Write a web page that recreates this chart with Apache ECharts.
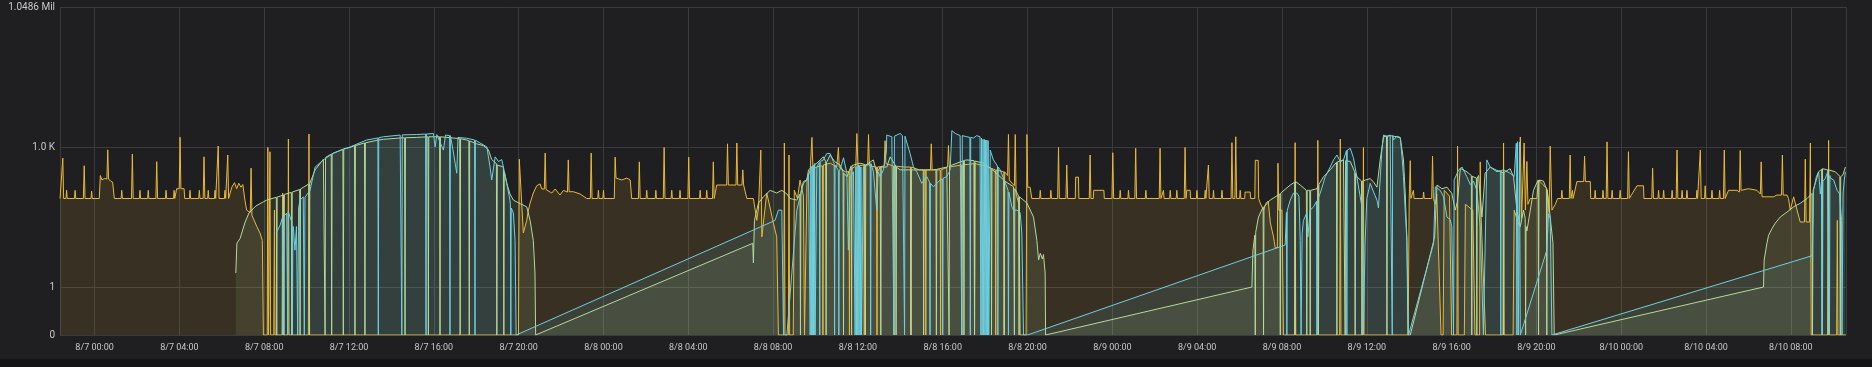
<!DOCTYPE html>
<html>
<head>
<meta charset="utf-8">
<script src="https://cdn.jsdelivr.net/npm/echarts@6/dist/echarts.min.js"></script>
<style>
html,body{margin:0;padding:0;background:#141414;}
#chart{width:1872px;height:359px;}
</style>
</head>
<body>
<div id="chart"></div>
<script>
// time in hours since 8/7 00:00, value (0 = bottom of the log axis)
const yAxisTicks = {1: '1', 1024: '1.0 K', 1048576: '1.0486 Mil'};

const yellowPts = [
[-1.63,80],[-1.54,80],[-1.50,590],[-1.46,80],[-1.35,80],[-1.32,120],[-1.29,80],[-0.95,80],[-0.92,120],[-0.89,80],
[-0.53,80],[-0.49,405],[-0.45,80],[-0.17,80],[-0.14,115],[-0.11,80],[0.22,80],[0.27,250],[0.35,200],[0.45,215],
[0.58,210],[0.62,890],[0.66,210],[0.75,190],[0.85,180],[0.90,180],[0.93,80],[1.25,80],[1.28,120],[1.31,80],
[1.74,80],[1.78,724],[1.82,80],[2.11,80],[2.14,120],[2.17,80],[2.50,80],[2.53,120],[2.56,80],[2.89,80],[2.93,495],[2.97,80],
[3.34,80],[3.37,120],[3.40,80],[3.72,80],[3.75,120],[3.78,80],[3.87,130],[3.99,130],[4.03,1660],[4.07,130],[4.22,130],[4.25,80],
[4.47,80],[4.50,120],[4.53,80],[4.91,80],[4.94,120],[4.97,80],[5.12,80],[5.16,630],[5.20,80],[5.33,80],[5.36,120],[5.39,80],
[5.65,80],[5.68,120],[5.71,80],[5.79,80],[5.83,1075],[5.87,80],[6.12,80],[6.15,120],[6.18,80],[6.24,80],[6.28,690],[6.32,80],
[6.47,140],[6.6,175],[6.7,130],[6.8,170],[6.9,140],[6.99,160],[7.01,156],[7.09,74],[7.17,45],[7.34,40],[7.38,360],[7.42,35],
[7.49,32],[7.65,20],[7.80,14.5],[7.91,10],[7.96,0],
[8.14,0],[8.17,1000],[8.20,0],[8.24,0],[8.27,810],[8.30,0],[8.45,0],[8.48,45],[8.51,0],[8.84,0],[8.87,105],[8.90,0],
[9.11,0],[9.14,1520],[9.17,0],[10.08,0],[10.11,1950],[10.14,0],[19.99,0],
[20.03,560],[20.22,14.5],[20.30,16],[20.38,27],[20.46,45],[20.54,64],[20.69,105],[20.85,150],[21.01,165],[21.09,128],
[21.21,128],[21.25,760],[21.29,125],[21.33,125],[21.56,105],[21.72,128],[21.95,95],[22.11,120],[22.30,110],[22.34,540],[22.38,112],
[22.58,112],[22.90,100],[23.21,80],[23.38,80],[23.42,760],[23.46,80],[23.73,80],[23.76,120],[23.79,80],[23.97,80],[24.0,120],[24.03,80],
[24.51,80],[24.55,620],[24.59,220],[24.86,200],[25.10,220],[25.26,200],[25.33,80],[25.65,80],[25.69,490],[25.73,80],
[26.01,80],[26.04,120],[26.07,80],[26.44,80],[26.47,120],[26.50,80],[26.82,80],[26.86,1000],[26.90,80],[27.19,80],[27.22,120],[27.25,80],
[27.58,80],[27.61,120],[27.64,80],[27.98,80],[28.02,620],[28.06,80],[28.53,80],[28.56,120],[28.59,80],[28.84,80],[28.87,120],[28.90,80],
[29.14,80],[29.18,490],[29.22,80],[29.34,156],[29.81,156],[29.85,1200],[29.89,156],[30.25,156],[30.29,1250],[30.33,156],
[30.53,156],[30.57,330],[30.61,156],[30.76,80],[31.07,80],[31.23,27],[31.31,50],[31.38,50],[31.42,880],[31.47,12],
[31.70,105],[31.86,50],[32.01,24],[32.17,12],[32.25,0],
[32.50,0],[32.53,1250],[32.56,0],[32.72,0],[32.75,690],[32.78,0],[32.95,0],[33.0,120],[33.15,80],[33.27,200],[33.43,90],[33.48,0],
[33.55,0],[33.6,200],[33.75,330],[33.83,1650],[33.88,350],[34.2,400],[34.33,400],[34.35,0],[34.37,420],[34.7,460],[35.0,380],
[35.08,1000],[35.12,380],[35.4,300],[35.58,300],[35.6,0],[35.62,330],[35.9,400],[35.95,2000],[36.0,400],[36.28,420],[36.3,0],
[36.32,420],[36.46,420],[36.5,1900],[36.54,400],[36.88,380],[36.9,0],[36.92,380],[37.24,400],[37.28,1400],[37.32,450],
[37.68,400],[37.7,0],[37.72,400],[38.2,380],[38.48,380],[38.5,0],[38.52,380],[38.9,330],[39.18,330],[39.2,0],[39.22,330],
[39.42,330],[39.46,1200],[39.5,330],[39.88,330],[39.9,0],[39.92,330],[40.23,380],[40.27,1100],[40.31,380],[40.88,420],[40.9,0],
[40.92,420],[41.48,450],[41.5,0],[41.52,450],[42.0,400],[42.48,330],[42.5,0],[42.52,330],[42.88,300],[42.9,0],[42.92,300],
[43.06,250],[43.1,1900],[43.14,200],[43.38,150],[43.42,1900],[43.46,100],[43.6,60],[43.65,0],[43.93,0],[43.97,1900],[44.01,140],
[44.12,140],[44.2,80],
[44.57,80],[44.6,120],[44.63,80],[45.07,80],[45.1,120],[45.13,80],[45.42,80],[45.46,1000],[45.5,80],[45.81,80],[45.85,420],[45.89,80],
[46.25,80],[46.27,230],[46.4,230],[46.42,80],[46.91,80],[46.95,690],[46.99,80],[47.1,80],[47.12,120],[47.6,120],[47.62,80],
[47.98,80],[48.02,770],[48.06,80],[48.34,80],[48.37,120],[48.40,80],[48.73,80],[48.76,120],[48.79,80],[49.06,80],[49.1,960],[49.14,80],
[49.55,80],[49.58,120],[49.61,80],[50.21,80],[50.25,960],[50.29,80],[50.38,80],[50.41,120],[50.44,80],[50.70,80],[50.73,120],[50.76,80],
[51.01,80],[51.04,120],[51.07,80],[51.39,80],[51.43,1000],[51.47,80],[51.51,120],[51.67,120],[51.69,80],[51.96,80],[51.99,120],[52.02,80],
[52.35,80],[52.38,120],[52.41,80],[52.49,80],[52.53,420],[52.57,80],[52.74,80],[52.77,120],[52.80,80],[53.14,80],[53.17,120],[53.20,80],
[53.60,80],[53.64,1270],[53.68,80],[53.78,80],[53.82,1700],[53.86,80],[54.0,80],[54.03,120],[54.06,80],[54.24,80],[54.26,110],[54.5,110],
[54.52,80],[54.72,80],[54.74,530],[54.88,530],[54.9,80],[54.97,64],[55.13,45],[55.25,64],[55.35,70],[55.45,24],[55.60,12],[55.68,7],
[55.78,7],[55.81,460],[55.85,45],[56.0,45],[56.07,0],
[56.59,0],[56.62,1270],[56.65,0],[57.66,0],[57.69,1420],[57.72,0],[58.72,0],[58.75,1520],[58.78,0],[59.81,0],[59.84,1000],[59.87,0],
[61.95,0],[62.0,80],[62.03,80],[62.05,520],[62.08,80],[62.17,80],[62.2,120],[62.23,80],[62.65,80],[62.68,110],[62.71,80],
[63.06,80],[63.1,650],[63.14,80],[63.23,60],[63.3,100],[63.5,0],[63.6,0],[63.65,120],[63.9,90],[64.0,0],[64.25,0],[64.28,1070],[64.31,0],
[64.6,0],[64.65,60],[65.0,45],[65.1,0],[65.32,0],[65.35,490],[65.38,45],[65.6,0],[66.42,0],[66.45,1250],[66.48,0],[66.9,0],[66.95,45],
[67.2,20],[67.24,1680],[67.3,30],[67.42,1250],[67.48,45],[67.55,500],[67.6,60],[67.71,80],[68.02,80],[68.1,200],[68.3,160],[68.5,130],
[68.6,40],[68.65,1070],[68.73,45],[68.89,60],
[69.0,80],[69.17,80],[69.2,120],[69.23,80],[69.55,80],[69.59,690],[69.63,80],[69.67,80],[69.7,120],[69.73,80],[69.91,185],[70.23,185],
[70.27,650],[70.31,185],[70.54,185],[70.56,80],[70.74,80],[70.77,120],[70.8,80],[71.11,80],[71.14,120],[71.17,80],[71.29,80],[71.33,1320],
[71.37,80],[71.54,80],[71.57,120],[71.6,80],[71.92,80],[71.95,120],[71.98,80],[72.30,80],[72.34,810],[72.38,80],[72.74,150],[73.05,150],
[73.07,80],[73.44,80],[73.48,360],[73.52,80],[73.73,80],[73.76,120],[73.79,80],[73.97,80],[74.0,120],[74.03,80],[74.37,80],[74.4,120],
[74.43,80],[74.59,80],[74.63,880],[74.67,80],[74.84,80],[74.87,120],[74.9,80],[75.07,80],[75.1,120],[75.13,80],[75.54,80],[75.57,120],
[75.6,80],[75.69,80],[75.73,880],[75.77,80],[75.93,80],[75.96,150],[75.99,80],[76.25,80],[76.28,120],[76.31,80],[76.61,80],[76.64,120],
[76.67,80],[76.82,80],[76.86,880],[76.9,80],[77.06,120],[77.46,120],[77.57,110],[77.61,860],[77.65,120],[78.0,130],[78.4,120],
[78.56,100],[78.6,490],[78.64,87],[79.18,87],[79.34,95],[79.56,95],[79.6,690],[79.64,95],[79.82,95],[79.89,80],[79.97,45],[80.13,87],
[80.44,25],[80.64,25],[80.68,560],[80.72,25],[80.88,25],[80.92,1250],[80.96,0],[81.74,0],[81.78,1420],[81.82,0],[82.16,0],[82.19,27],
[82.22,0],[82.6,0]
];

const greenPts = [
[6.66,2.0],[6.71,8.8],[6.86,11],[7.10,25],[7.28,39],[7.6,55],[7.96,68],[8.12,74],[8.57,85],[8.59,0],[8.61,86],[8.91,95],[8.93,0],
[8.95,98],[9.28,108],[9.30,0],[9.32,110],[9.67,125],[9.69,0],[9.71,128],[10.11,165],[10.13,0],[10.15,170],[10.40,330],[10.79,560],
[10.85,600],[10.87,0],[10.89,610],[11.16,720],[11.18,0],[11.20,730],[11.71,920],[11.73,0],[11.75,940],[12.05,1000],[12.26,1100],
[12.28,0],[12.30,1100],[12.73,1250],[12.75,0],[12.77,1260],[13.38,1450],[13.62,1500],[14.41,1600],[14.62,1620],[14.64,0],[14.66,1620],
[15.19,1650],[15.72,1700],[15.74,0],[15.76,1700],[16.27,1700],[16.29,0],[16.31,1700],[17.22,1550],[17.24,0],[17.26,1540],[17.55,1450],
[17.65,1400],[17.67,0],[17.69,1380],[18.02,1200],[18.33,1100],[18.57,900],[18.73,550],[18.81,500],[18.95,450],[18.97,0],[18.99,420],
[19.28,380],[19.30,0],[19.32,300],[19.44,170],[19.59,100],[19.75,74],[20.07,62],[20.38,53],[20.54,27],[20.69,10],[20.77,2],[20.80,0],
[31.04,8.7],[31.07,3.3],[31.12,27],[31.23,45],[31.31,64],[31.54,87],[31.86,120],[32.17,105],[32.41,120],[32.65,100],[32.80,80],
[33.12,74],[33.27,100],[33.29,0],[33.31,110],[33.43,185],[33.59,200],[33.67,330],[33.88,400],[33.90,0],[33.92,420],[34.06,460],
[34.37,630],[34.48,500],[34.50,0],[34.52,480],[34.69,690],[34.9,500],[35.16,420],[35.30,300],[35.32,0],[35.34,280],[35.48,235],
[35.68,400],[35.70,0],[35.72,410],[35.79,420],[36.10,460],[36.33,430],[36.35,0],[36.37,420],[36.73,540],[36.89,280],[37.05,380],
[37.08,0],[37.10,380],[37.36,380],[37.52,630],[37.78,400],[37.80,0],[37.82,380],[37.99,330],[38.48,330],[38.50,0],[38.52,330],
[38.62,330],[39.08,330],[39.10,0],[39.12,330],[39.56,330],[39.68,340],[39.70,0],[39.72,340],[40.19,380],[40.28,400],[40.30,0],
[40.32,400],[40.98,520],[41.00,0],[41.02,530],[41.14,540],[41.48,520],[41.50,0],[41.52,510],[41.92,460],[42.28,350],[42.30,0],
[42.32,340],[42.71,235],[42.88,200],[42.90,0],[42.92,190],[43.34,143],[43.38,0],[43.40,130],[43.58,90],[43.60,0],[43.62,87],
[43.97,64],[44.28,32],[44.44,10],[44.52,3.8],[44.6,5.3],[44.7,4],[44.75,5],[44.83,2],[44.85,0],
[54.58,1.0],[54.63,6.2],[54.72,13],[54.74,0],[54.76,15],[54.89,32],[55.11,52],[55.13,0],[55.15,53],[55.44,74],[55.90,100],[55.92,0],
[55.94,105],[56.39,156],[56.60,180],[56.62,0],[56.64,185],[56.86,156],[57.15,120],[57.17,0],[57.19,120],[57.31,120],[57.33,0],
[57.35,120],[57.65,130],[57.70,150],[57.72,0],[57.74,160],[57.96,235],[58.27,330],[58.57,480],[58.59,0],[58.61,490],[58.90,540],
[58.96,530],[58.98,0],[59.00,520],[59.22,500],[59.43,300],[59.45,0],[59.47,280],[59.53,235],[59.75,190],[59.77,0],[59.79,190],
[59.84,185],[60.16,215],[60.32,180],[60.48,140],[60.63,540],[60.79,1700],[60.93,1750],[60.95,0],[60.97,1750],[61.1,1800],[61.42,1700],
[61.58,1600],[61.73,540],[61.81,105],[61.89,12],[61.94,0],[62.05,0],[63.2,12],[63.31,156],[63.54,130],[63.78,140],[64.01,103],
[64.17,45],[64.28,70],[64.41,355],[64.72,300],[64.93,250],[64.95,0],[64.97,240],[65.03,235],[65.17,220],[65.19,0],[65.21,220],
[65.27,250],[65.43,32],[65.58,280],[65.82,380],[66.14,320],[66.43,290],[66.45,0],[66.47,290],[66.76,350],[66.92,235],[67.08,45],
[67.24,20],[67.39,45],[67.47,30],[67.49,0],[67.51,20],[67.55,16],[67.71,45],[67.86,120],[68.08,200],[68.10,0],[68.12,200],[68.33,190],
[68.47,130],[68.49,0],[68.51,120],[68.65,32],[68.78,8.7],[68.84,0],
[78.71,1.0],[78.74,3.8],[78.87,8.7],[78.95,13],[79.11,18],[79.26,23.5],[79.50,32],[79.82,41],[80.13,53],[80.44,63],[80.76,80],
[81.0,103],[81.02,0],[81.05,120],[81.15,170],[81.31,300],[81.45,340],[81.47,0],[81.49,350],[81.54,355],[81.74,330],[81.76,0],
[81.78,330],[81.86,320],[82.10,300],[82.31,240],[82.33,0],[82.35,235],[82.46,260],[82.57,380]
];

const cyanPts = [
[8.56,14.5],[8.75,21.5],[8.85,30],[8.87,0],[8.89,32],[9.06,39],[9.11,0],[9.13,42],[9.22,45],[9.30,25],[9.33,0],[9.35,18],[9.37,20],
[9.45,6.2],[9.52,20],[9.58,0],[9.62,50],[9.69,74],[9.84,87],[9.89,0],[9.92,85],[9.98,80],[10.16,120],[10.40,380],[10.79,540],
[11.26,760],[12.05,1030],[12.83,1450],[13.36,1600],[13.38,0],[13.40,1620],[13.62,1700],[14.41,1850],[14.47,1860],[14.49,0],[14.51,1870],
[15.19,1900],[15.61,1950],[15.63,0],[15.65,1950],[15.98,2000],[16.06,1030],[16.14,1900],[16.45,880],[16.55,1850],[16.74,1800],
[16.76,0],[16.78,1800],[16.9,900],[17.08,280],[17.14,1650],[17.55,1580],[17.92,1450],[17.94,0],[17.96,1430],[18.02,1330],[18.50,1030],
[18.65,380],[18.73,200],[18.89,630],[19.05,500],[19.2,550],[19.28,380],[19.44,170],[19.59,74],[19.61,60],[19.63,0],[19.65,50],
[19.75,39],[19.83,10],[19.88,0],
[32.09,27],[32.25,45],[32.41,45],[32.49,0],[32.65,0],[33.12,45],[33.43,170],[33.59,200],[33.67,280],[33.75,0],[33.78,380],[33.81,0],
[33.84,400],[33.87,0],[33.90,420],[33.93,0],[33.96,450],[33.98,0],[34.06,380],[34.18,480],[34.20,0],[34.22,500],[34.37,540],[34.53,740],
[34.69,740],[34.84,500],[34.88,450],[34.90,0],[34.92,420],[35.08,320],[35.10,0],[35.12,300],[35.16,300],[35.32,600],[35.48,280],
[35.55,6.2],[35.63,235],[35.79,300],[35.87,0],[35.90,380],[35.93,0],[35.96,400],[35.99,0],[36.02,420],[36.05,0],[36.08,400],[36.11,0],
[36.14,380],[36.17,0],[36.26,380],[36.42,420],[36.58,450],[36.60,0],[36.62,450],[36.73,300],[36.89,45],[36.95,300],[37.05,235],
[37.2,330],[37.34,800],[37.36,1850],[37.6,1700],[37.68,1750],[37.70,0],[37.72,1750],[37.99,2000],[38.1,1800],[38.18,1750],[38.20,0],
[38.22,1750],[38.31,1700],[38.46,740],[38.62,380],[38.78,300],[39.01,170],[39.25,235],[39.38,180],[39.40,0],[39.42,170],[39.56,143],
[39.88,200],[39.98,210],[40.00,0],[40.02,220],[40.19,235],[40.35,330],[40.43,2300],[40.6,2000],[40.82,1800],[40.88,1800],[40.90,0],
[40.92,1800],[41.14,1700],[41.28,1650],[41.30,0],[41.32,1650],[41.45,1600],[41.6,1800],[41.76,1700],[41.8,0],[41.83,1600],[41.86,0],
[41.9,1500],[41.93,0],[41.96,1500],[41.99,0],[42.02,1450],[42.05,0],[42.08,1450],[42.11,0],[42.14,1400],[42.17,0],[42.24,880],
[42.39,540],[42.58,400],[42.60,0],[42.62,380],[42.71,330],[43.02,143],[43.08,120],[43.10,0],[43.12,110],[43.26,53],[43.34,45],
[43.5,45],[43.65,40],[43.73,14.5],[43.81,0],[44.0,0],
[56.15,8.0],[56.21,40],[56.23,0],[56.25,45],[56.39,74],[56.54,105],[56.70,105],[56.8,90],[56.86,10],[56.9,0],[56.95,14],[57.01,27],
[57.17,39],[57.22,12],[57.33,45],[57.49,53],[57.63,70],[57.65,0],[57.67,74],[57.80,103],[58.04,235],[58.27,380],[58.43,540],[58.59,690],
[58.75,500],[58.90,540],[59.04,860],[59.06,0],[59.08,880],[59.22,960],[59.37,600],[59.53,235],[59.77,53],[59.84,0],[59.92,8.8],
[60.0,80],[60.16,170],[60.32,110],[60.48,74],[60.55,50],[60.71,880],[60.79,1850],[60.95,1750],[61.10,1850],[61.18,1800],[61.20,0],
[61.22,1800],[61.26,1450],[61.42,1750],[61.58,1650],[61.66,630],[61.73,235],[61.81,45],[61.89,10],[61.97,0],[62.0,0],[63.15,8.7],
[63.23,143],[63.46,120],[63.62,87],[63.78,32],[63.93,28],[64.01,20],[64.09,0],[64.12,200],[64.33,330],[64.49,380],[64.72,235],
[64.88,160],[65.03,190],[65.19,120],[65.35,20],[65.5,0],[65.55,0],[65.66,540],[65.82,380],[66.14,300],[66.30,320],[66.32,0],
[66.34,320],[66.45,330],[66.76,280],[66.95,235],[67.05,1230],[67.08,0],[67.11,1330],[67.15,0],[67.2,1300],[67.24,0],[67.27,0],
[68.49,6.2],[68.57,38],[68.65,30],[68.73,0],
[81.0,4.7],[81.07,120],[81.2,235],[81.31,300],[81.39,100],[81.45,200],[81.49,0],[81.51,190],[81.62,215],[81.74,300],[81.82,0],
[81.84,250],[81.86,220],[82.02,200],[82.18,120],[82.30,100],[82.39,27],[82.41,0],[82.44,0],[82.46,100],[82.52,200],[82.57,300]
];

const BASE = new Date(2019, 7, 7, 0, 0, 0).getTime();
const HOUR = 3600000;
const FLOOR = 0.093;
const X_START_H = -1.632, X_END_H = 82.6;

function toData(pts) {
  return pts.map(p => [BASE + p[0] * HOUR, p[1] === 0 ? FLOOR : p[1]]);
}
function pad(n) { return (n < 10 ? '0' : '') + n; }

const textColor = '#c8c8c8';
const gridColor = '#3b3b3d';

function mkSeries(name, pts, color, op) {
  return {
    name: name, type: 'line', data: toData(pts), showSymbol: false, symbol: 'none',
    lineStyle: {width: 1, color: color}, itemStyle: {color: color},
    areaStyle: {color: color, opacity: op, origin: 'start'},
    animation: false, sampling: null
  };
}

const chart = echarts.init(document.getElementById('chart'), null, {renderer: 'canvas'});
chart.setOption({
  backgroundColor: '#1f1e20',
  animation: false,
  grid: {left: 60, right: 26, top: 7, bottom: 24},
  xAxis: {
    type: 'time',
    min: BASE + X_START_H * HOUR,
    max: BASE + X_END_H * HOUR,
    minInterval: 4 * HOUR, maxInterval: 4 * HOUR, splitNumber: 20,
    axisLine: {show: false}, axisTick: {show: false},
    splitLine: {show: true, lineStyle: {color: gridColor, width: 1}},
    axisLabel: {
      color: textColor, fontSize: 9, fontFamily: 'Roboto', margin: 8, hideOverlap: false,
      formatter: function (v) {
        const d = new Date(v);
        return (d.getMonth() + 1) + '/' + d.getDate() + ' ' + pad(d.getHours()) + ':' + pad(d.getMinutes());
      }
    }
  },
  yAxis: {
    type: 'log', logBase: 1024, min: FLOOR, max: 1048576,
    axisLine: {show: false}, axisTick: {show: false},
    splitLine: {show: true, lineStyle: {color: gridColor, width: 1}},
    axisLabel: {
      color: textColor, fontSize: 10, fontFamily: 'Roboto', margin: 5,
      formatter: function (v) {
        if (v < 0.5) return '0';
        if (v < 100) return yAxisTicks[1];
        if (v < 100000) return yAxisTicks[1024];
        return yAxisTicks[1048576];
      }
    }
  },
  series: [
    mkSeries('yellow', yellowPts, '#eab839', 0.12),
    mkSeries('green', greenPts, '#b7d89a', 0.1),
    mkSeries('cyan', cyanPts, '#6ed0e0', 0.1)
  ]
});
</script>
</body>
</html>
